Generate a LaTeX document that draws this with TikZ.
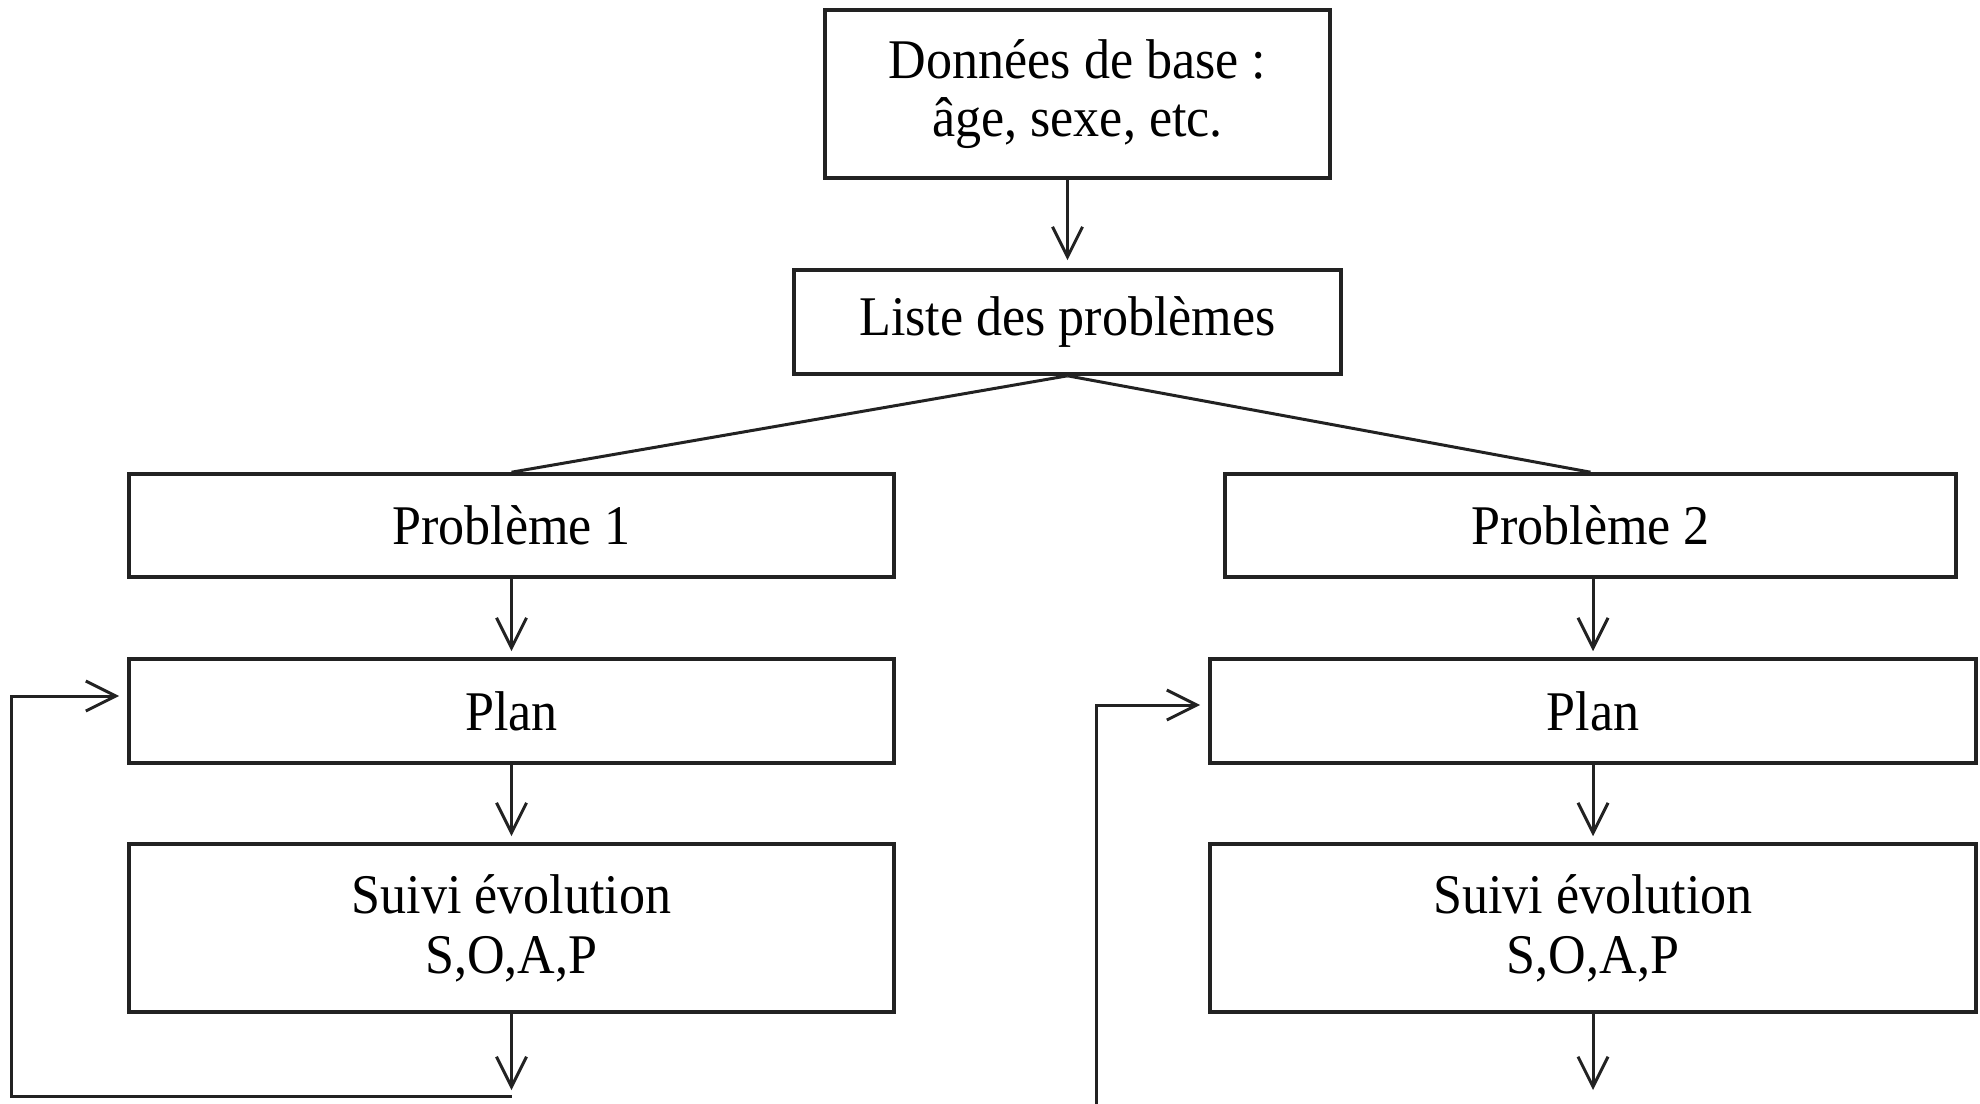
\documentclass[tikz,border=0pt]{standalone}
\usepackage{fontspec}
\setmainfont{Liberation Serif}[FakeStretch=0.93]
\usetikzlibrary{arrows.meta}
\definecolor{ink}{HTML}{222222}
\tikzset{
  box/.style={draw=ink, line width=1.8pt, align=center, inner sep=0pt,
    font=\fontsize{28}{29}\selectfont},
  arr/.style={draw=ink, line width=1.5pt, -{Straight Barb[length=15pt,width=15pt,line width=1.5pt]}},
  link/.style={draw=ink, line width=1.5pt}
}
\begin{document}
\begin{tikzpicture}[x=0.5pt,y=-0.5pt]
\useasboundingbox (0,0) rectangle (1980,1103);
\node[box, minimum width=252.5pt, minimum height=84pt] (top) at (1077.5,94) {Données de base :\\âge, sexe, etc.};
\node[box, minimum width=273.5pt, minimum height=52pt] (liste) at (1067.5,322) {Liste des problèmes};
\node[box, minimum width=382.5pt, minimum height=51.5pt] (p1) at (511.5,525.5) {Problème 1};
\node[box, minimum width=365.5pt, minimum height=51.5pt] (p2) at (1590.5,525.5) {Problème 2};
\node[box, minimum width=382.5pt, minimum height=52pt] (plan1) at (511.5,711) {Plan};
\node[box, minimum width=383pt, minimum height=52pt] (plan2) at (1593,711) {Plan};
\node[box, minimum width=382.5pt, minimum height=84pt, font=\fontsize{28}{30}\selectfont] (s1) at (511.5,928) {Suivi évolution\\S,O,A,P};
\node[box, minimum width=383pt, minimum height=84pt, font=\fontsize{28}{30}\selectfont] (s2) at (1593,928) {Suivi évolution\\S,O,A,P};
\coordinate (e1) at (511.5,1090);
\coordinate (e2) at (1593,1090);
\coordinate (l1) at (511.5,1096);
\coordinate (l2) at (11,696);
\coordinate (r1) at (1096,1110);
\coordinate (r2) at (1096,705);

\draw[arr, shorten >=4pt] (top.south -| liste.north) -- (liste.north);
\draw[link] (liste.south) -- (p1.north);
\draw[link] (liste.south) -- (p2.north);
\draw[arr, shorten >=3pt] (p1.south) -- (plan1.north);
\draw[arr, shorten >=3pt] (p2.south -| plan2.north) -- (plan2.north);
\draw[arr, shorten >=3pt] (plan1.south) -- (s1.north);
\draw[arr, shorten >=3pt] (plan2.south) -- (s2.north);
\draw[arr] (s1.south) -- (e1);
\draw[arr] (s2.south) -- (e2);
\draw[arr, shorten >=4pt] (l1) -| (l2) -- (l2 -| plan1.west);
\draw[arr, shorten >=4pt] (r1) -- (r2) -- (r2 -| plan2.west);
\end{tikzpicture}
\end{document}
